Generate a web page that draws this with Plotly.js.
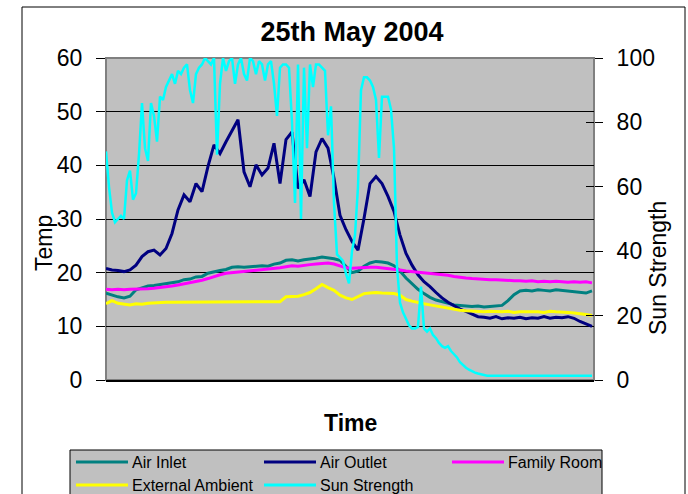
<!DOCTYPE html>
<html><head><meta charset="utf-8">
<script src="https://cdn.plot.ly/plotly-3.0.1.min.js"></script>
<style>html,body{margin:0;padding:0;background:#fff;}#chart{width:688px;height:494px;}</style>
</head><body><div id="chart"></div>
<script>
// ---- data ----
const chartTitle = '25th May 2004';
const seriesNames = ['Air Inlet', 'Air Outlet', 'Family Room', 'External Ambient', 'Sun Strength'];
const seriesColors = ['#008080', '#000080', '#FF00FF', '#FFFF00', '#00FFFF'];

// temperatures, one reading every 12 minutes
const airInlet = [
  16.2,15.8,15.5,15.3,15.6,16.8,17.2,17.5,17.6,17.8,
  17.9,18.2,18.3,18.7,18.8,19.2,19.3,19.9,20.2,20.4,
  20.6,21.0,21.1,21.0,21.1,21.2,21.3,21.2,21.6,21.8,
  22.3,22.4,22.2,22.4,22.5,22.7,22.9,22.8,22.6,22.3,
  21.2,20.0,20.3,21.2,21.8,22.1,22.0,21.8,21.3,20.3,
  19.0,17.9,16.9,16.1,15.4,14.9,14.6,14.3,14.0,13.9,
  13.8,13.7,13.8,13.6,13.7,13.8,13.9,14.8,15.9,16.6,
  16.7,16.6,16.8,16.7,16.6,16.8,16.7,16.6,16.5,16.4,
  16.2,16.6];
const airOutlet = [
  20.8,20.5,20.4,20.2,20.5,21.4,23.0,23.9,24.2,23.3,
  24.5,27.3,31.7,34.5,33.2,36.6,35.1,39.8,43.8,42.2,
  44.4,46.6,48.5,38.8,36.0,40.1,38.2,39.5,44.1,36.6,
  44.8,46.2,35.7,37.3,34.2,42.5,45.0,43.2,37.6,30.7,
  28.0,25.8,24.2,30.1,36.6,37.9,36.6,34.2,31.4,27.0,
  23.6,21.4,19.6,18.3,17.4,16.3,15.3,14.5,13.8,13.2,
  12.8,12.3,11.8,11.7,11.5,11.8,11.4,11.6,11.5,11.7,
  11.4,11.6,11.5,11.8,11.5,11.7,11.6,11.8,11.5,10.9,
  10.5,10.0];
const familyRoom = [
  16.9,16.8,16.9,16.8,16.9,16.9,17.0,17.0,17.1,17.2,
  17.3,17.5,17.7,17.9,18.1,18.4,18.6,18.9,19.3,19.6,
  19.9,20.0,20.1,20.2,20.3,20.4,20.5,20.6,20.8,20.9,
  21.1,21.3,21.2,21.4,21.5,21.6,21.7,21.8,21.6,21.2,
  20.9,20.8,20.9,20.9,21.0,21.0,20.9,20.8,20.6,20.5,
  20.3,20.2,20.1,20.0,19.9,19.8,19.7,19.5,19.3,19.1,
  19.0,18.9,18.8,18.8,18.7,18.7,18.6,18.6,18.5,18.5,
  18.4,18.5,18.3,18.4,18.3,18.4,18.3,18.2,18.3,18.2,
  18.3,18.1];
const externalAmbient = [
  14.2,14.8,14.3,14.1,14.0,14.2,14.1,14.3,14.4,14.5,
  14.5,14.5,14.5,14.5,14.5,14.5,14.5,14.6,14.6,14.5,
  14.6,14.5,14.6,14.5,14.6,14.5,14.6,14.5,14.6,14.6,
  15.5,15.5,15.6,15.9,16.3,17.0,17.8,17.2,16.7,15.8,
  15.3,15.0,15.6,16.1,16.2,16.3,16.2,16.2,16.1,15.8,
  15.0,14.7,14.4,14.2,14.0,13.8,13.5,13.3,13.2,13.0,
  12.9,12.8,12.8,12.7,12.8,12.7,12.7,12.8,12.6,12.7,
  12.7,12.8,12.7,12.6,12.8,12.7,12.7,12.6,12.5,12.4,
  12.2,12.0];
// sun strength, one reading every 6 minutes
const sunStrength = [
  71,60,52,49,50,51,50,62,65,56,
  58,70,86,72,68,86,82,74,88,87,
  91,93,95,92,96,95,97,98,90,86,
  95,97,98,100,99,98,100,70,92,100,
  96,99,100,92,98,100,95,93,100,99,
  95,99,98,93,98,99,92,82,97,98,
  98,97,80,55,98,50,97,72,98,91,
  98,98,97,96,76,85,55,39,38,37,
  33,30,40,45,60,90,94,94,93,91,
  87,69,88,88,88,84,72,35,24,21,
  19,17,16,16,16.5,29,16,15,16,14,
  13,11.5,10.5,10,10.5,9,8,7,5.5,4.5,
  3.8,3.2,2.7,2.3,2.0,1.7,1.5,1.3,1.3,1.3,
  1.3,1.3,1.3,1.3,1.3,1.3,1.3,1.3,1.3,1.3,
  1.3,1.3,1.3,1.3,1.3,1.3,1.3,1.3,1.3,1.3,
  1.3,1.3,1.3,1.3,1.3,1.3,1.3,1.3,1.3,1.3,
  1.3,1.3,1.3];
const tempStepMinutes = 12;
const sunStepMinutes = 6;
const timeSpanMinutes = 976;
const tempTicks = [0,10,20,30,40,50,60];
const sunTicks = [0,20,40,60,80,100];

// ---- build ----
const timeTemp = airInlet.map((_, i) => i * tempStepMinutes);
const timeSun = sunStrength.map((_, i) => i * sunStepMinutes);
const tempSeries = [airInlet, airOutlet, familyRoom, externalAmbient];

const traces = tempSeries.map((ys, k) => ({
  type: 'scatter', mode: 'lines', x: timeTemp, y: ys, name: seriesNames[k],
  line: {color: seriesColors[k], width: 3}, yaxis: 'y', showlegend: false
}));
traces.push({
  type: 'scatter', mode: 'lines', x: timeSun, y: sunStrength, name: seriesNames[4],
  line: {color: seriesColors[4], width: 2.5}, yaxis: 'y2', showlegend: false
});
traces.push({type: 'scatter', mode: 'lines', x: [], y: [], yaxis: 'y3', showlegend: false, hoverinfo: 'skip'});

const L = 106, R = 594, T = 58, B = 380;
const px = v => (v - L) / (R - L);
const py = v => (B - v) / (B - T);
const FONT = 'Arial, "Liberation Sans", sans-serif';

const shapes = [
  // chart area border
  {type: 'rect', xref: 'paper', yref: 'paper', x0: px(22), x1: px(685), y0: py(530), y1: py(7),
   line: {color: '#000', width: 1}, fillcolor: 'rgba(0,0,0,0)', layer: 'below'},
  // plot area frame
  {type: 'rect', xref: 'paper', yref: 'paper', x0: 0, x1: 1, y0: 0, y1: 1,
   line: {color: '#808080', width: 2}, fillcolor: 'rgba(0,0,0,0)', layer: 'below'},
  // legend box
  {type: 'rect', xref: 'paper', yref: 'paper', x0: px(70), x1: px(602), y0: py(520), y1: py(450),
   line: {color: '#000', width: 1}, fillcolor: '#C0C0C0', layer: 'below'}
];
const annotations = [
  {text: 'Temp', xref: 'paper', yref: 'paper', x: px(44), y: py(243), textangle: -90,
   showarrow: false, xanchor: 'center', yanchor: 'middle', font: {family: FONT, size: 23, color: '#000'}},
  {text: 'Sun Strength', xref: 'paper', yref: 'paper', x: px(658), y: py(268), textangle: -90,
   showarrow: false, xanchor: 'center', yanchor: 'middle', font: {family: FONT, size: 23, color: '#000'}},
  {text: '<b>Time</b>', xref: 'paper', yref: 'paper', x: px(350), y: py(423),
   showarrow: false, xanchor: 'center', yanchor: 'middle', font: {family: FONT, size: 23, color: '#000'}}
];
// manual legend (Excel style, 3 columns)
const legCols = [76, 264, 452], legRows = [462, 485];
seriesNames.forEach((nm, k) => {
  const cx = legCols[k % 3], cy = legRows[Math.floor(k / 3)];
  shapes.push({type: 'line', xref: 'paper', yref: 'paper', x0: px(cx), x1: px(cx + 52), y0: py(cy), y1: py(cy),
    line: {color: seriesColors[k], width: 3}});
  annotations.push({text: nm, xref: 'paper', yref: 'paper', x: px(cx + 54), y: py(cy), showarrow: false,
    xanchor: 'left', yanchor: 'middle', font: {family: FONT, size: 16, color: '#000'}});
});

const layout = {
  width: 688, height: 494,
  margin: {l: L, r: 688 - R, t: T, b: 494 - B, pad: 0},
  paper_bgcolor: '#FFFFFF', plot_bgcolor: '#C0C0C0',
  font: {family: FONT, color: '#000'},
  title: {text: '<b>' + chartTitle + '</b>', x: px(352), xref: 'paper', xanchor: 'center',
          y: 1 - 32 / 494, yanchor: 'middle', font: {family: FONT, size: 27, color: '#000'}},
  showlegend: false,
  xaxis: {range: [0, timeSpanMinutes], showticklabels: false, ticks: '', showgrid: false, zeroline: false,
          showline: true, linecolor: '#000', linewidth: 1.5, fixedrange: true},
  yaxis: {range: [0, 60], tickvals: tempTicks, ticks: 'outside', ticklen: 9, tickcolor: '#000', tickwidth: 1,
          showgrid: true, gridcolor: '#000', gridwidth: 1, zeroline: false, showline: false,
          tickfont: {family: FONT, size: 23, color: '#000'}, ticklabelstandoff: 9},
  yaxis2: {overlaying: 'y', side: 'right', range: [0, 100], tickvals: sunTicks, ticks: 'outside', ticklen: 8,
           tickcolor: '#000', tickwidth: 1, showgrid: false, zeroline: false, showline: false,
           tickfont: {family: FONT, size: 23, color: '#000'}, ticklabelstandoff: 9},
  yaxis3: {overlaying: 'y', side: 'right', range: [0, 100], tickvals: sunTicks, ticks: 'inside', ticklen: 8,
           tickcolor: '#000', tickwidth: 1, showgrid: false, zeroline: false, showline: false, showticklabels: false},
  shapes: shapes, annotations: annotations
};
Plotly.newPlot('chart', traces, layout, {staticPlot: true, displayModeBar: false});
</script></body></html>
